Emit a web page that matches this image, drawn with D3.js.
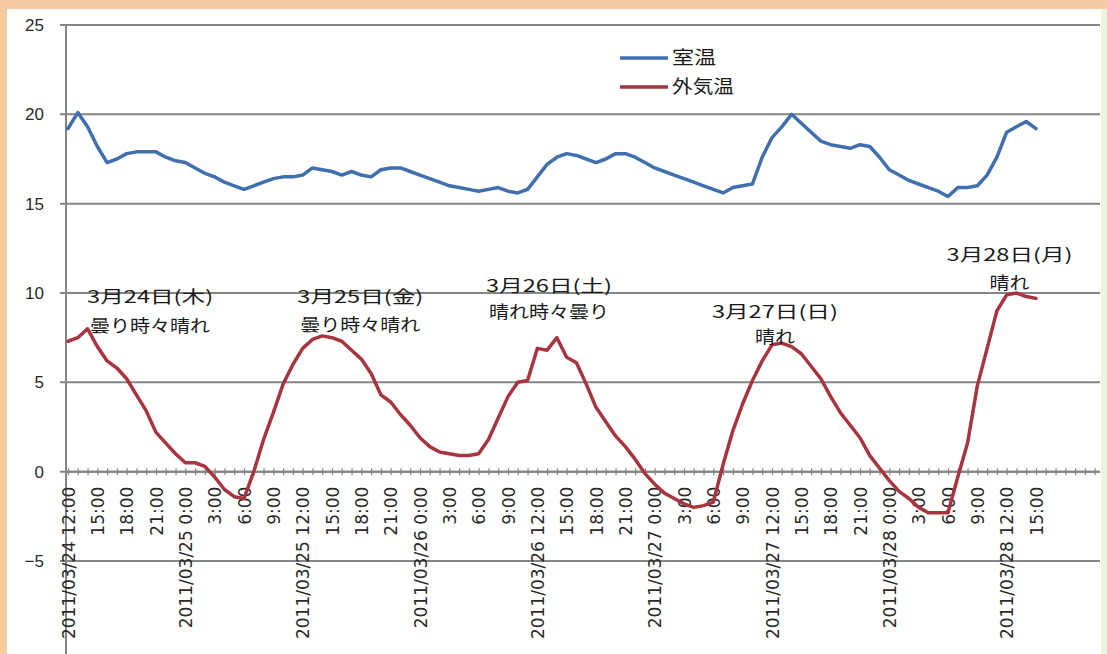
<!DOCTYPE html>
<html><head><meta charset="utf-8">
<script src="https://cdn.jsdelivr.net/npm/d3@7"></script>
<style>body{margin:0;background:#fff;} svg{display:block;}</style>
</head><body>
<svg id="c" width="1107" height="654"></svg>
<script>
// ---------------- data ----------------
const seriesNames = ["室温", "外気温"];
// hourly values starting 2011/03/24 12:00
const roomTemp = [
 19.2, 20.1, 19.3, 18.2, 17.3, 17.5, 17.8, 17.9, 17.9, 17.9,
 17.6, 17.4, 17.3, 17.0, 16.7, 16.5, 16.2, 16.0, 15.8, 16.0,
 16.2, 16.4, 16.5, 16.5, 16.6, 17.0, 16.9, 16.8, 16.6, 16.8,
 16.6, 16.5, 16.9, 17.0, 17.0, 16.8, 16.6, 16.4, 16.2, 16.0,
 15.9, 15.8, 15.7, 15.8, 15.9, 15.7, 15.6, 15.8, 16.5, 17.2,
 17.6, 17.8, 17.7, 17.5, 17.3, 17.5, 17.8, 17.8, 17.6, 17.3,
 17.0, 16.8, 16.6, 16.4, 16.2, 16.0, 15.8, 15.6, 15.9, 16.0,
 16.1, 17.6, 18.7, 19.3, 20.0, 19.5, 19.0, 18.5, 18.3, 18.2,
 18.1, 18.3, 18.2, 17.6, 16.9, 16.6, 16.3, 16.1, 15.9, 15.7,
 15.4, 15.9, 15.9, 16.0, 16.6, 17.6, 19.0, 19.3, 19.6, 19.2
];
const outsideTemp = [
 7.3, 7.5, 8.0, 7.0, 6.2, 5.8, 5.2, 4.3, 3.4, 2.2,
 1.6, 1.0, 0.5, 0.5, 0.3, -0.3, -1.0, -1.4, -1.5, 0.0,
 1.8, 3.3, 4.9, 6.0, 6.9, 7.4, 7.6, 7.5, 7.3, 6.8,
 6.3, 5.5, 4.3, 3.9, 3.2, 2.6, 1.9, 1.4, 1.1, 1.0,
 0.9, 0.9, 1.0, 1.8, 3.0, 4.2, 5.0, 5.1, 6.9, 6.8,
 7.5, 6.4, 6.1, 4.9, 3.6, 2.8, 2.0, 1.4, 0.7, -0.1,
 -0.7, -1.2, -1.5, -1.8, -2.0, -1.9, -1.7, 0.4, 2.3, 3.8,
 5.1, 6.2, 7.1, 7.2, 7.0, 6.6, 5.9, 5.2, 4.2, 3.3,
 2.6, 1.9, 0.9, 0.2, -0.5, -1.1, -1.5, -2.0, -2.3, -2.3,
 -2.3, -0.3, 1.6, 4.8, 6.9, 9.0, 9.9, 10.0, 9.8, 9.7
];
const yTicks = [-5, 0, 5, 10, 15, 20, 25];
const xTickLabels = [
 "2011/03/24 12:00","15:00","18:00","21:00",
 "2011/03/25 0:00","3:00","6:00","9:00",
 "2011/03/25 12:00","15:00","18:00","21:00",
 "2011/03/26 0:00","3:00","6:00","9:00",
 "2011/03/26 12:00","15:00","18:00","21:00",
 "2011/03/27 0:00","3:00","6:00","9:00",
 "2011/03/27 12:00","15:00","18:00","21:00",
 "2011/03/28 0:00","3:00","6:00","9:00",
 "2011/03/28 12:00","15:00"
];
const annotationDates = ["3月24日(木)", "3月25日(金)", "3月26日(土)", "3月27日(日)", "3月28日(月)"];
const annotationWeather = ["曇り時々晴れ", "曇り時々晴れ", "晴れ時々曇り", "晴れ", "晴れ"];

// ---------------- layout ----------------
const W = 1107, H = 654;
const plotLeft = 66, plotRight = 1100;
const annHour = [8.4, 29.9, 49.2, 72.3, 96.3];
const annDateY = [9.76, 9.76, 10.38, 8.93, 12.12];
const annWeatherY = [8.14, 8.2, 8.93, 7.53, 10.55];
const colors = ["#3f6fad", "#a8343f"];

const svg = d3.select("#c");
const x = d3.scaleLinear().domain([0, 99]).range([68, 1036]);
const y = d3.scaleLinear().domain([-5, 25]).range([561, 25]);

// frame
svg.append("rect").attr("x",0).attr("y",0).attr("width",W).attr("height",H).attr("fill","#fff");
svg.append("rect").attr("x",0).attr("y",0).attr("width",W).attr("height",9).attr("fill","#f7cba2");
svg.append("rect").attr("x",0).attr("y",0).attr("width",7).attr("height",H).attr("fill","#f7cba2");
svg.append("rect").attr("x",1101).attr("y",9).attr("width",6).attr("height",H).attr("fill","#eef2df");

// gridlines
svg.append("g").selectAll("line").data(yTicks).join("line")
  .attr("x1", plotLeft - 6).attr("x2", plotRight)
  .attr("y1", d => y(d)).attr("y2", d => y(d))
  .attr("stroke", "#858585").attr("stroke-width", 2);

// y axis line
svg.append("line").attr("x1", plotLeft).attr("x2", plotLeft)
  .attr("y1", y(25)).attr("y2", H).attr("stroke", "#858585").attr("stroke-width", 2);

// y axis labels
const yAxis = d3.axisLeft(y).tickValues(yTicks).tickSize(0).tickPadding(22);
const gy = svg.append("g").attr("transform", `translate(${plotLeft},0)`).call(yAxis);
gy.select(".domain").remove();
gy.selectAll("text").attr("font-family", "Liberation Sans, Arial, sans-serif")
  .attr("font-size", 17).attr("fill", "#2a2a2a");

// x axis (category ticks every hour)
const y0 = y(0);
const hourTicks = d3.range(0, 106);
const xAxisTicks = d3.axisBottom(x).tickValues(hourTicks).tickSize(7).tickFormat("");
const gxt = svg.append("g").attr("transform", `translate(0,${y0 - 3.5})`).call(xAxisTicks);
gxt.select(".domain").remove();
gxt.selectAll("line").attr("stroke", "#858585").attr("stroke-width", 1.2);
svg.append("line").attr("x1", plotLeft).attr("x2", plotRight).attr("y1", y0).attr("y2", y0)
  .attr("stroke", "#858585").attr("stroke-width", 2);

const labelHours = d3.range(0, 100, 3);
const xAxis = d3.axisBottom(x).tickValues(labelHours).tickSize(0)
  .tickFormat((d, i) => xTickLabels[i]);
const gx = svg.append("g").attr("transform", `translate(0,${y0})`).call(xAxis);
gx.select(".domain").remove();
gx.selectAll("text")
  .attr("font-family", "DejaVu Sans, sans-serif").attr("font-size", 17).attr("fill", "#2a2a2a")
  .attr("transform", "rotate(-90)").attr("text-anchor", "end")
  .attr("x", -15).attr("y", 0).attr("dy", "0.36em");

// lines
const line = d3.line().x((d, i) => x(i)).y(d => y(d));
[roomTemp, outsideTemp].forEach((s, k) => {
  svg.append("path").datum(s).attr("d", line).attr("fill", "none")
    .attr("stroke", colors[k]).attr("stroke-width", 3.5)
    .attr("stroke-linejoin", "round").attr("stroke-linecap", "round");
});

// legend
const legY = [58, 87];
const legW = [44, 62];
seriesNames.forEach((n, k) => {
  svg.append("line").attr("x1", 620).attr("x2", 668).attr("y1", legY[k]).attr("y2", legY[k])
    .attr("stroke", colors[k]).attr("stroke-width", 3.5);
  svg.append("text").attr("x", 672).attr("y", legY[k]).attr("dy", "0.36em")
    .attr("font-family", "Noto Sans CJK JP, sans-serif").attr("font-size", 18).attr("fill", "#1a1a1a")
    .attr("textLength", legW[k]).attr("lengthAdjust", "spacingAndGlyphs").text(n);
});

// annotations
const ann = svg.append("g").attr("font-family", "Noto Sans CJK JP, sans-serif")
  .attr("font-size", 17).attr("fill", "#1a1a1a").attr("text-anchor", "middle");
annotationDates.forEach((t, i) => {
  ann.append("text").attr("x", x(annHour[i])).attr("y", y(annDateY[i])).attr("dy", "0.36em")
    .attr("textLength", 126).attr("lengthAdjust", "spacingAndGlyphs").text(t);
  const w = annotationWeather[i].length * 20;
  ann.append("text").attr("x", x(annHour[i])).attr("y", y(annWeatherY[i])).attr("dy", "0.36em")
    .attr("textLength", w).attr("lengthAdjust", "spacingAndGlyphs").text(annotationWeather[i]);
});
</script>
</body></html>
